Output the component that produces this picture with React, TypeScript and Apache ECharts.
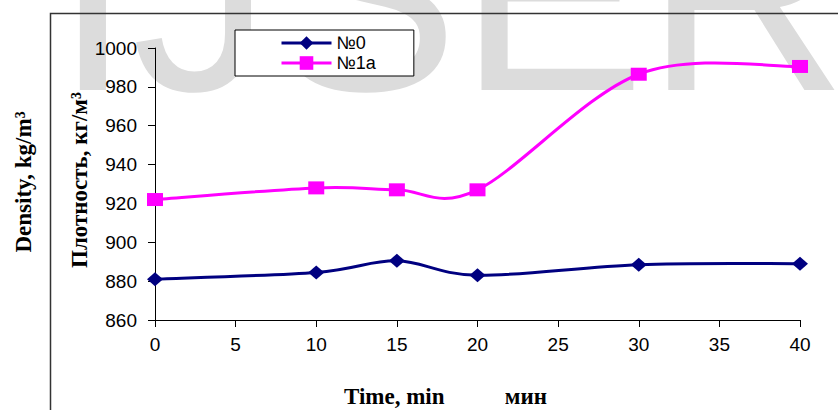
import React, { useEffect, useRef } from "react";
import * as echarts from "echarts";

// Sampling times, min
const times = [0, 10, 15, 20, 30, 40];
// Density of sample №0, kg/m³
const density0 = [881, 884.5, 890.5, 883, 888.5, 889];
// Density of sample №1a, kg/m³
const density1a = [922, 928, 927, 927, 986.5, 990.5];

const seriesNames = ["№0", "№1a"];
const seriesColors = ["#000080", "#ff00ff"];

const sans = "'Liberation Sans', Arial, sans-serif";
const serif = "'Liberation Serif', 'Times New Roman', serif";

// Smoothed connecting curve (Catmull-Rom style Bezier, tension 1/6),
// drawn segment by segment through the grid's own coordinate system.
function curveSeries(values: number[], color: string) {
  const n = times.length;
  return {
    type: "custom",
    silent: true,
    z: 2,
    data: times.map((t, i) => [t, values[i]]),
    encode: { x: 0, y: 1 },
    renderItem: (params: any, api: any) => {
      const i = params.dataIndex;
      if (i >= n - 1) return null;
      const pt = (k: number) => {
        const kk = Math.max(0, Math.min(n - 1, k));
        return api.coord([times[kk], values[kk]]);
      };
      const p0 = pt(i - 1);
      const p1 = pt(i);
      const p2 = pt(i + 1);
      const p3 = pt(i + 2);
      return {
        type: "bezierCurve",
        shape: {
          x1: p1[0],
          y1: p1[1],
          x2: p2[0],
          y2: p2[1],
          cpx1: p1[0] + (p2[0] - p0[0]) / 6,
          cpy1: p1[1] + (p2[1] - p0[1]) / 6,
          cpx2: p2[0] - (p3[0] - p1[0]) / 6,
          cpy2: p2[1] - (p3[1] - p1[1]) / 6,
        },
        style: { stroke: color, lineWidth: 3, fill: null, lineCap: "round" },
      };
    },
  };
}

export default function App() {
  const ref = useRef<HTMLDivElement>(null);

  useEffect(() => {
    if (!ref.current) return;
    const chart = echarts.init(ref.current, null, { renderer: "svg" });

    const option: any = {
      animation: false,
      backgroundColor: "#ffffff",
      grid: { left: 155, right: 38, top: 48, bottom: 90, outerBoundsMode: "none" },
      legend: {
        orient: "vertical",
        left: 235,
        top: 30,
        padding: [4, 38, 4, 45],
        itemWidth: 50,
        itemHeight: 17,
        itemGap: 2,
        borderColor: "#000",
        borderWidth: 1,
        borderRadius: 0,
        backgroundColor: "#fff",
        z: 10,
        textStyle: { fontSize: 18, fontFamily: sans, color: "#000" },
        data: seriesNames.map((name, i) => ({
          name,
          lineStyle: { width: 3, color: seriesColors[i], opacity: 1 },
        })),
      },
      xAxis: {
        type: "value",
        min: 0,
        max: 40,
        interval: 5,
        axisLine: { show: true, lineStyle: { color: "#000", width: 1 } },
        axisTick: { show: true, length: 7, lineStyle: { color: "#000" } },
        axisLabel: { fontSize: 19, fontFamily: sans, color: "#000", margin: 15 },
        splitLine: { show: false },
      },
      yAxis: {
        type: "value",
        min: 860,
        max: 1000,
        interval: 20,
        axisLine: { show: true, lineStyle: { color: "#000", width: 1 } },
        axisTick: { show: true, length: 7, lineStyle: { color: "#000" } },
        axisLabel: {
          fontSize: 19,
          fontFamily: sans,
          color: "#000",
          margin: 18,
          formatter: (v: number) => String(v),
        },
        splitLine: { show: false },
      },
      series: [
        curveSeries(density0, seriesColors[0]),
        curveSeries(density1a, seriesColors[1]),
        {
          name: seriesNames[0],
          type: "line",
          data: times.map((t, i) => [t, density0[i]]),
          symbol: "diamond",
          symbolSize: [16, 14],
          itemStyle: { color: seriesColors[0] },
          lineStyle: { color: seriesColors[0], width: 0 },
          z: 3,
        },
        {
          name: seriesNames[1],
          type: "line",
          data: times.map((t, i) => [t, density1a[i]]),
          symbol: "rect",
          symbolSize: [16, 13],
          itemStyle: { color: seriesColors[1] },
          lineStyle: { color: seriesColors[1], width: 0 },
          z: 3,
        },
      ],
      graphic: [
        {
          type: "text",
          x: 54,
          y: -7,
          z: -10,
          silent: true,
          style: {
            text: "IJSER",
            font: `280px ${sans}`,
            fill: "#dcdcdc",
            verticalAlign: "middle",
            align: "left",
          },
        },
        {
          type: "polyline",
          z: 20,
          shape: { points: [[50.5, 410], [50.5, 13.5], [838, 13.5]] },
          style: { stroke: "#333", lineWidth: 1.5, fill: null },
        },
        {
          type: "text",
          x: 23,
          y: 182,
          rotation: Math.PI / 2,
          z: 20,
          style: {
            text: "Density, kg/m³",
            font: `bold 23px ${serif}`,
            fill: "#000",
            align: "center",
            verticalAlign: "middle",
          },
        },
        {
          type: "text",
          x: 79,
          y: 180,
          rotation: Math.PI / 2,
          z: 20,
          style: {
            text: "Плотность, кг/м³",
            font: `bold 23px ${serif}`,
            fill: "#000",
            align: "center",
            verticalAlign: "middle",
          },
        },
        {
          type: "text",
          x: 344,
          y: 396,
          z: 20,
          style: {
            text: "Time, min",
            font: `bold 23px ${serif}`,
            fill: "#000",
            align: "left",
            verticalAlign: "middle",
          },
        },
        {
          type: "text",
          x: 547,
          y: 396,
          z: 20,
          style: {
            text: "мин",
            font: `bold 23px ${serif}`,
            fill: "#000",
            align: "right",
            verticalAlign: "middle",
          },
        },
        {
          type: "rect",
          z: 21,
          shape: { x: 470, y: 378, width: 35, height: 32 },
          style: { fill: "#fff" },
        },
      ],
    };

    chart.setOption(option);
    return () => chart.dispose();
  }, []);

  return (
    <div
      ref={ref}
      style={{ position: "absolute", left: 0, top: 0, width: 838, height: 410 }}
    />
  );
}
